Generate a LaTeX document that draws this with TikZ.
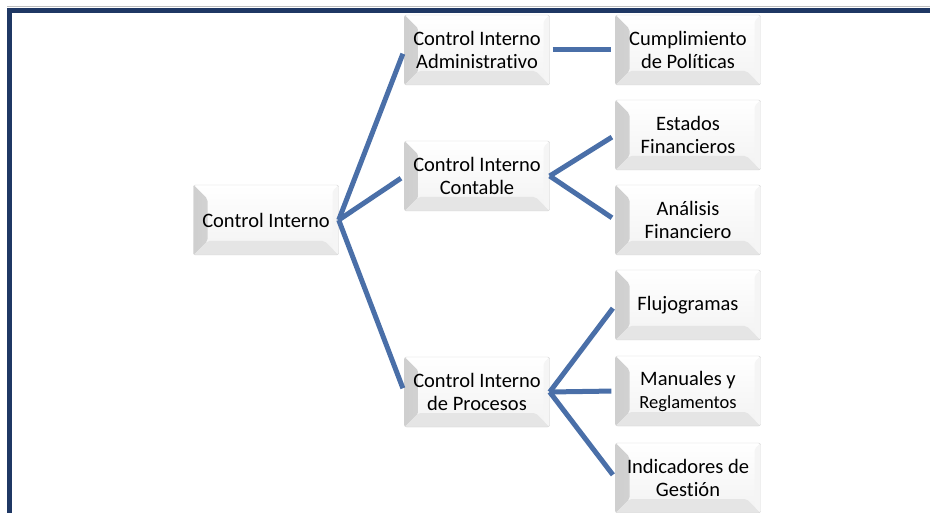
\documentclass[tikz,border=0pt]{standalone}
\usepackage{fontspec}
\setmainfont{Carlito}[Ligatures=NoCommon]
\usetikzlibrary{calc}
\definecolor{marco}{HTML}{1F3864}
\definecolor{rama}{HTML}{4A6FA8}

\begin{document}
\begin{tikzpicture}[x=1pt,y=-1pt,
  box/.style={draw=gray!35, rounded corners=2pt, minimum width=145pt, minimum height=70pt,
    inner sep=2pt, align=center, font=\fontsize{20.5}{23}\selectfont,
    top color=white, bottom color=gray!10,
    path picture={
      \shade[left color=gray!38, right color=gray!10]
        (path picture bounding box.north west) -- ++(14,14)
        -- ($(path picture bounding box.south west)+(14,-14)$)
        -- (path picture bounding box.south west) -- cycle;
      \fill[gray!20]
        (path picture bounding box.south west) -- ++(14,-14)
        -- ($(path picture bounding box.south east)+(-14,-14)$)
        -- (path picture bounding box.south east) -- cycle;
      \fill[gray!8]
        (path picture bounding box.north east) -- ++(-6,6)
        -- ($(path picture bounding box.south east)+(-6,-6)$)
        -- (path picture bounding box.south east) -- cycle;
    }},
  rama/.style={draw=rama, line width=5pt, shorten >=4pt}]
\useasboundingbox (0,0) rectangle (930,513);

% marco
\draw[gray!50, line width=1pt] (7,7) -- (930,7);
\fill[marco] (7,8) rectangle (930,13);
\fill[marco] (7,8) rectangle (12,513);

% nodos
\node[box] (ci) at (266,220) {Control Interno};
\node[box] (adm) at (477,50) {Control Interno\\Administrativo};
\node[box] (con) at (477,176) {Control Interno\\Contable};
\node[box] (pro) at (477,392) {Control Interno\\de Procesos};
\node[box] (pol) at (688,50) {Cumplimiento\\de Políticas};
\node[box] (est) at (688,135) {Estados\\Financieros};
\node[box] (ana) at (688,220) {Análisis\\Financiero};
\node[box] (flu) at (688,305) {Flujogramas};
\node[box] (man) at (688,391) {Manuales y\\{\fontsize{18.5}{23}\selectfont Reglamentos}};
\node[box] (ind) at (688,478) {Indicadores de\\Gestión};

% ramas
\draw[rama] (ci.east) -- (adm.west);
\draw[rama] (ci.east) -- (con.west);
\draw[rama] (ci.east) -- (pro.west);
\draw[rama, shorten <=3pt] (adm.east) -- (pol.west);
\draw[rama] (con.east) -- (est.west);
\draw[rama] (con.east) -- (ana.west);
\draw[rama] (pro.east) -- (flu.west);
\draw[rama] (pro.east) -- (man.west);
\draw[rama] (pro.east) -- (ind.west);
\end{tikzpicture}
\end{document}
